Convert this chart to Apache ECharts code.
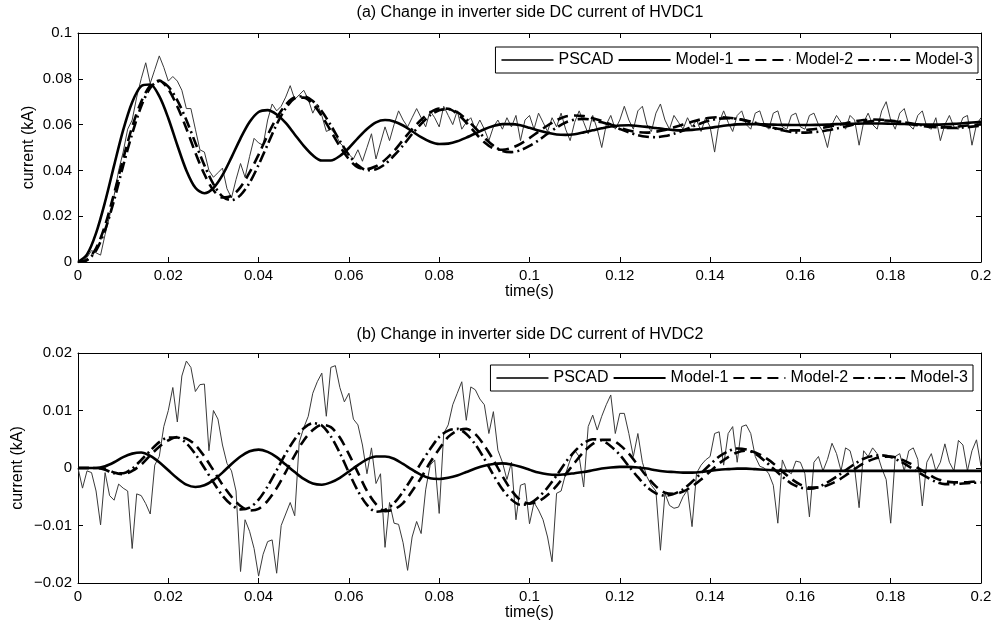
<!DOCTYPE html>
<html><head><meta charset="utf-8">
<script src="https://cdn.jsdelivr.net/npm/echarts@6/dist/echarts.min.js"></script>
<style>html,body{margin:0;padding:0;background:#fff}#c{width:997px;height:627px}</style>
</head><body><div id="c"></div>
<script>
// ---------- DATA ----------
const tModel = [
0,0.002,0.004,0.006,0.008,0.010,0.012,0.014,0.016,0.018,
0.020,0.022,0.024,0.026,0.028,0.030,0.032,0.034,0.036,0.038,
0.040,0.042,0.044,0.046,0.048,0.050,0.052,0.054,0.056,0.058,
0.060,0.062,0.064,0.066,0.068,0.070,0.072,0.074,0.076,0.078,
0.080,0.082,0.084,0.086,0.088,0.090,0.092,0.094,0.096,0.098,
0.100,0.102,0.104,0.106,0.108,0.110,0.112,0.114,0.116,0.118,
0.120,0.122,0.124,0.126,0.128,0.130,0.132,0.134,0.136,0.138,
0.140,0.142,0.144,0.146,0.148,0.150,0.152,0.154,0.156,0.158,
0.160,0.162,0.164,0.166,0.168,0.170,0.172,0.174,0.176,0.178,
0.180,0.182,0.184,0.186,0.188,0.190,0.192,0.194,0.196,0.198,
0.200];

const tPscad = [
0,0.001,0.002,0.003,0.004,0.005,0.006,0.007,0.008,0.009,
0.010,0.011,0.012,0.013,0.014,0.015,0.016,0.017,0.018,0.019,
0.020,0.021,0.022,0.023,0.024,0.025,0.026,0.027,0.028,0.029,
0.030,0.031,0.032,0.033,0.034,0.035,0.036,0.037,0.038,0.039,
0.040,0.041,0.042,0.043,0.044,0.045,0.046,0.047,0.048,0.049,
0.050,0.051,0.052,0.053,0.054,0.055,0.056,0.057,0.058,0.059,
0.060,0.061,0.062,0.063,0.064,0.065,0.066,0.067,0.068,0.069,
0.070,0.071,0.072,0.073,0.074,0.075,0.076,0.077,0.078,0.079,
0.080,0.081,0.082,0.083,0.084,0.085,0.086,0.087,0.088,0.089,
0.090,0.091,0.092,0.093,0.094,0.095,0.096,0.097,0.098,0.099,
0.100,0.101,0.102,0.103,0.104,0.105,0.106,0.107,0.108,0.109,
0.110,0.111,0.112,0.113,0.114,0.115,0.116,0.117,0.118,0.119,
0.120,0.121,0.122,0.123,0.124,0.125,0.126,0.127,0.128,0.129,
0.130,0.131,0.132,0.133,0.134,0.135,0.136,0.137,0.138,0.139,
0.140,0.141,0.142,0.143,0.144,0.145,0.146,0.147,0.148,0.149,
0.150,0.151,0.152,0.153,0.154,0.155,0.156,0.157,0.158,0.159,
0.160,0.161,0.162,0.163,0.164,0.165,0.166,0.167,0.168,0.169,
0.170,0.171,0.172,0.173,0.174,0.175,0.176,0.177,0.178,0.179,
0.180,0.181,0.182,0.183,0.184,0.185,0.186,0.187,0.188,0.189,
0.190,0.191,0.192,0.193,0.194,0.195,0.196,0.197,0.198,0.199,
0.200];

// (a) HVDC1
const pscadA = [
0,0.0005,0.002,0.005,0.004,0.003,0.012,0.020,0.029,0.040,
0.048,0.058,0.062,0.072,0.080,0.087,0.078,0.084,0.090,0.085,
0.079,0.081,0.079,0.075,0.067,0.067,0.058,0.049,0.048,0.040,
0.037,0.039,0.041,0.032,0.028,0.036,0.043,0.037,0.046,0.054,
0.052,0.051,0.062,0.069,0.066,0.068,0.072,0.077,0.071,0.073,
0.075,0.071,0.065,0.069,0.064,0.057,0.058,0.056,0.052,0.050,
0.047,0.045,0.049,0.044,0.050,0.056,0.045,0.052,0.059,0.053,
0.060,0.066,0.062,0.059,0.063,0.067,0.063,0.059,0.066,0.063,
0.059,0.068,0.064,0.060,0.066,0.058,0.061,0.063,0.058,0.062,
0.058,0.053,0.059,0.062,0.058,0.063,0.059,0.064,0.053,0.062,
0.064,0.058,0.065,0.061,0.057,0.063,0.059,0.065,0.058,0.053,
0.061,0.066,0.061,0.056,0.064,0.058,0.050,0.060,0.064,0.058,
0.062,0.068,0.062,0.058,0.066,0.068,0.060,0.057,0.065,0.069,
0.062,0.058,0.064,0.061,0.058,0.063,0.059,0.062,0.057,0.063,
0.059,0.048,0.061,0.066,0.061,0.057,0.064,0.066,0.060,0.058,
0.065,0.066,0.060,0.058,0.065,0.066,0.059,0.058,0.064,0.065,
0.059,0.058,0.064,0.065,0.060,0.057,0.050,0.060,0.064,0.061,
0.058,0.064,0.062,0.051,0.061,0.065,0.060,0.058,0.066,0.070,
0.062,0.058,0.065,0.067,0.060,0.058,0.064,0.066,0.059,0.058,
0.063,0.053,0.060,0.064,0.059,0.058,0.063,0.064,0.051,0.060,
0.063];

const model1A = [
0,0.0033,0.0126,0.0263,0.0422,0.0576,0.0698,0.0768,0.0775,0.0724,
0.0628,0.0510,0.0400,0.0324,0.0300,0.0323,0.0379,0.0457,0.0540,0.0611,
0.0655,0.0663,0.0644,0.0607,0.0557,0.0507,0.0466,0.0443,0.0443,0.0463,
0.0498,0.0541,0.0581,0.0610,0.0620,0.0614,0.0596,0.0571,0.0545,0.0525,
0.0515,0.0517,0.0527,0.0543,0.0561,0.0580,0.0594,0.0602,0.0602,0.0597,
0.0586,0.0574,0.0564,0.0557,0.0555,0.0558,0.0566,0.0575,0.0584,0.0592,
0.0596,0.0597,0.0594,0.0590,0.0585,0.0580,0.0576,0.0575,0.0577,0.0581,
0.0586,0.0592,0.0597,0.0601,0.0602,0.0602,0.0601,0.0600,0.0599,0.0598,
0.0598,0.0598,0.0599,0.0600,0.0602,0.0603,0.0604,0.0605,0.0605,0.0605,
0.0604,0.0603,0.0602,0.0601,0.0600,0.0600,0.0601,0.0603,0.0606,0.0609,
0.0612];

const model2A = [
0,0.001,0.006,0.016,0.030,0.045,0.059,0.070,0.077,0.0792,
0.0755,0.0679,0.0583,0.0477,0.0383,0.0313,0.0282,0.0289,0.0327,0.0391,
0.0469,0.0554,0.0629,0.0686,0.0718,0.0718,0.0690,0.0638,0.0572,0.0505,
0.0449,0.0413,0.0406,0.0418,0.0446,0.0485,0.0533,0.0580,0.0621,0.0653,
0.0670,0.0669,0.0647,0.0609,0.0564,0.0523,0.0496,0.0490,0.0498,0.0516,
0.0541,0.0569,0.0596,0.0619,0.0635,0.0640,0.0637,0.0628,0.0616,0.0601,
0.0586,0.0574,0.0567,0.0565,0.0569,0.0576,0.0588,0.0600,0.0612,0.0623,
0.0630,0.0632,0.0630,0.0625,0.0616,0.0606,0.0596,0.0586,0.0579,0.0575,
0.0575,0.0578,0.0583,0.0590,0.0598,0.0606,0.0614,0.0620,0.0622,0.0621,
0.0617,0.0611,0.0604,0.0597,0.0592,0.0589,0.0588,0.0590,0.0594,0.0598,
0.0601];

const model3A = [
0,0.0008,0.005,0.014,0.027,0.042,0.056,0.068,0.076,0.079,
0.0766,0.0706,0.0620,0.0520,0.0422,0.0340,0.0286,0.0270,0.0292,0.0346,
0.0424,0.0513,0.0601,0.0671,0.0715,0.0724,0.0703,0.0658,0.0597,0.0529,
0.0467,0.0422,0.0401,0.0405,0.0427,0.0465,0.0509,0.0559,0.0603,0.0641,
0.0663,0.0667,0.0654,0.0623,0.0585,0.0543,0.0508,0.0485,0.0480,0.0488,
0.0507,0.0531,0.0560,0.0587,0.0609,0.0622,0.0625,0.0620,0.0610,0.0597,
0.0581,0.0566,0.0554,0.0547,0.0545,0.0550,0.0560,0.0574,0.0590,0.0606,
0.0619,0.0626,0.0628,0.0625,0.0618,0.0608,0.0597,0.0585,0.0575,0.0568,
0.0565,0.0566,0.0569,0.0575,0.0583,0.0592,0.0601,0.0609,0.0615,0.0618,
0.0617,0.0613,0.0607,0.0600,0.0594,0.0589,0.0586,0.0585,0.0587,0.0591,
0.0595];

// (b) HVDC2
const pscadB = [
0,-0.0035,-0.0005,-0.0008,-0.0040,-0.0099,-0.0008,-0.0048,-0.0056,-0.0028,
-0.0035,-0.0040,-0.0140,-0.0045,-0.0048,-0.0062,-0.0080,0.0005,0.0020,0.0072,
0.0100,0.0140,0.0080,0.0160,0.0186,0.0175,0.0133,0.0145,0.0146,0.0030,
0.0100,0.0085,0.0040,0.0008,-0.0005,-0.0040,-0.0180,-0.0090,-0.0110,-0.0140,
-0.0188,-0.0150,-0.0128,-0.0125,-0.0183,-0.0100,-0.0080,-0.0060,-0.0083,0.0045,
0.0070,0.0090,0.0130,0.0150,0.0165,0.0090,0.0175,0.0178,0.0140,0.0115,
0.0130,0.0085,0.0075,0.0040,-0.0010,0.0035,-0.0027,-0.0010,-0.0138,-0.0060,
-0.0096,-0.0098,-0.0130,-0.0178,-0.0120,-0.0093,-0.0114,-0.0038,0.0005,0.0014,
-0.0079,0.0060,0.0075,0.0110,0.0130,0.0150,0.0083,0.0141,0.0136,0.0120,
0.0110,0.0060,0.0098,0.0031,0.0010,-0.0020,0.0010,-0.0090,-0.0030,-0.0027,
-0.0097,-0.0060,-0.0073,-0.0090,-0.0120,-0.0163,-0.0044,-0.0040,-0.0010,0.0014,
0.0031,0.0020,-0.0033,0.0072,0.0092,0.0066,0.0090,0.0110,0.0127,0.0060,
0.0095,0.0095,0.0060,0.0020,0.0060,0.0010,-0.0015,-0.0030,-0.0040,-0.0143,
-0.0044,-0.0065,-0.0070,-0.0068,-0.0050,-0.0038,-0.0102,-0.0009,0.0005,0.0014,
0.0020,0.0060,0.0063,0.0005,0.0060,0.0072,0.0010,0.0072,0.0075,0.0060,
0.0020,0.0003,0.0000,-0.0010,-0.0030,-0.0096,0.0014,-0.0005,-0.0010,0.0012,
0.0010,-0.0010,-0.0085,0.0010,0.0020,-0.0005,0.0015,0.0043,0.0025,-0.0005,
0.0035,0.0030,0.0000,-0.0069,0.0030,0.0020,0.0035,0.0025,0.0000,-0.0020,
-0.0096,0.0020,0.0025,-0.0005,0.0030,0.0035,0.0015,-0.0066,0.0010,0.0025,
-0.0005,0.0010,0.0042,0.0010,-0.0005,0.0048,0.0040,-0.0005,0.0030,0.0049,
0.0003];

const model1B = [
0,0,0,0.0003,0.0010,0.0019,0.0025,0.0027,0.0021,0.0010,
-0.0004,-0.0018,-0.0029,-0.0033,-0.0030,-0.0021,-0.0008,0.0007,0.0020,0.0029,
0.0032,0.0028,0.0019,0.0006,-0.0007,-0.0019,-0.0027,-0.0029,-0.0025,-0.0017,
-0.0006,0.0005,0.0015,0.0020,0.0020,0.0016,0.0007,-0.0003,-0.0012,-0.0018,
-0.0019,-0.0017,-0.0013,-0.0007,-0.0001,0.0004,0.0007,0.0008,0.0006,0.0002,
-0.0003,-0.0008,-0.0011,-0.0012,-0.0011,-0.0009,-0.0007,-0.0004,-0.0001,0.0001,
0.0002,0.0002,0.0001,-0.0001,-0.0004,-0.0006,-0.0007,-0.0008,-0.0008,-0.0007,
-0.0005,-0.0003,-0.0002,-0.0001,-0.0001,-0.0002,-0.0003,-0.0004,-0.0005,-0.0005,
-0.0005,-0.0005,-0.0005,-0.0005,-0.0005,-0.0005,-0.0005,-0.0005,-0.0005,-0.0005,
-0.0005,-0.0005,-0.0005,-0.0005,-0.0005,-0.0005,-0.0005,-0.0005,-0.0005,-0.0005,
-0.0005];

const model2B = [
0,0,0,-0.0001,-0.0008,-0.0011,-0.0005,0.0006,0.0022,0.0037,
0.0048,0.0054,0.0051,0.0040,0.0020,-0.0004,-0.0029,-0.0050,-0.0066,-0.0074,
-0.0071,-0.0057,-0.0035,-0.0007,0.0022,0.0048,0.0066,0.0075,0.0071,0.0053,
0.0024,-0.0008,-0.0040,-0.0063,-0.0075,-0.0072,-0.0061,-0.0040,-0.0017,0.0010,
0.0033,0.0054,0.0065,0.0068,0.0059,0.0039,0.0014,-0.0014,-0.0039,-0.0056,
-0.0062,-0.0058,-0.0047,-0.0031,-0.0011,0.0009,0.0028,0.0042,0.0049,0.0049,
0.0040,0.0025,0.0005,-0.0015,-0.0032,-0.0043,-0.0045,-0.0041,-0.0032,-0.0020,
-0.0006,0.0008,0.0019,0.0027,0.0030,0.0027,0.0019,0.0008,-0.0006,-0.0019,
-0.0029,-0.0034,-0.0034,-0.0030,-0.0023,-0.0013,-0.0002,0.0008,0.0015,0.0019,
0.0020,0.0016,0.0009,0.0000,-0.0009,-0.0018,-0.0023,-0.0025,-0.0025,-0.0024,
-0.0022];

const model3B = [
0,0,0,-0.0003,-0.0009,-0.0009,-0.0001,0.0014,0.0030,0.0045,
0.0053,0.0053,0.0043,0.0024,0.0000,-0.0025,-0.0048,-0.0064,-0.0072,-0.0069,
-0.0055,-0.0032,-0.0004,0.0025,0.0050,0.0069,0.0078,0.0074,0.0055,0.0026,
-0.0008,-0.0040,-0.0064,-0.0076,-0.0073,-0.0061,-0.0041,-0.0017,0.0009,0.0033,
0.0054,0.0065,0.0068,0.0059,0.0041,0.0016,-0.0012,-0.0037,-0.0055,-0.0064,
-0.0062,-0.0051,-0.0034,-0.0013,0.0010,0.0029,0.0043,0.0050,0.0048,0.0038,
0.0023,0.0003,-0.0016,-0.0033,-0.0044,-0.0048,-0.0045,-0.0037,-0.0024,-0.0009,
0.0006,0.0020,0.0029,0.0034,0.0032,0.0025,0.0013,-0.0001,-0.0015,-0.0027,
-0.0034,-0.0036,-0.0033,-0.0025,-0.0015,-0.0004,0.0007,0.0016,0.0021,0.0022,
0.0019,0.0012,0.0003,-0.0007,-0.0016,-0.0024,-0.0028,-0.0028,-0.0027,-0.0026,
-0.0025];

const seriesNames = ['PSCAD', 'Model-1', 'Model-2', 'Model-3'];
const titleTexts = ['(a) Change in inverter side DC current of HVDC1', '(b) Change in inverter side DC current of HVDC2'];
const xAxisName = 'time(s)';
const yAxisName = 'current (kA)';

// ---------- CHART ----------
const FONT = '"Liberation Sans", Arial, Helvetica, sans-serif';
function zip(t, v) { return t.map((x, i) => [x, v[i]]); }
function fmt(v) { return String(+v.toFixed(4)).replace('-', '\u2212'); }

const txt = { color: '#000', fontFamily: FONT };

function xAx(grid, pos, withLabel, nameGap) {
  const a = {
    type: 'value', gridIndex: grid, position: pos, min: 0, max: 0.2, interval: 0.02,
    axisLine: { show: true, onZero: false, lineStyle: { color: '#000', width: 1 } },
    axisTick: { show: true, inside: true, length: 5, lineStyle: { color: '#000', width: 1 } },
    axisLabel: { show: withLabel, margin: 6, formatter: fmt, fontSize: 15, ...txt },
    splitLine: { show: false }
  };
  if (withLabel) {
    a.name = xAxisName; a.nameLocation = 'middle'; a.nameGap = nameGap;
    a.nameMoveOverlap = false;
    a.nameTextStyle = { fontSize: 16, ...txt };
  }
  return a;
}
function yAx(grid, pos, min, max, interval, withLabel, nameGap) {
  const a = {
    type: 'value', gridIndex: grid, position: pos, min: min, max: max, interval: interval,
    axisLine: { show: true, onZero: false, lineStyle: { color: '#000', width: 1 } },
    axisTick: { show: true, inside: true, length: 5, lineStyle: { color: '#000', width: 1 } },
    axisLabel: { show: withLabel, margin: 6, formatter: fmt, fontSize: 15, ...txt },
    splitLine: { show: false }
  };
  if (withLabel) {
    a.name = yAxisName; a.nameLocation = 'middle'; a.nameGap = nameGap; a.nameRotate = 90;
    a.nameMoveOverlap = false;
    a.nameTextStyle = { fontSize: 16, ...txt };
  }
  return a;
}

const styles = [
  { color: '#3a3a3a', width: 1, type: 'solid' },
  { color: '#000', width: 2.6, type: 'solid' },
  { color: '#000', width: 2.6, type: [11, 6] },
  { color: '#000', width: 2.6, type: [11, 4, 2, 4] }
];

function mkSeries(axisIdx, tp, p, m1, m2, m3) {
  const sets = [[tPscad, p], [tModel, m1], [tModel, m2], [tModel, m3]];
  return sets.map((s, i) => ({
    name: seriesNames[i], type: 'line',
    xAxisIndex: axisIdx, yAxisIndex: axisIdx,
    data: zip(s[0], s[1]),
    showSymbol: false, symbol: 'none',
    smooth: i === 0 ? false : 0.3,
    lineStyle: styles[i], itemStyle: { color: styles[i].color },
    z: 2 + i, silent: true
  }));
}

function mkLegend(right, top) {
  return {
    data: seriesNames, right: right, top: top, orient: 'horizontal',
    itemWidth: 52, itemHeight: 14, itemGap: 4, padding: [5, 5],
    borderColor: '#000', borderWidth: 1, backgroundColor: '#fff',
    itemStyle: { color: 'rgba(0,0,0,0)', borderWidth: 0, opacity: 0 },
    textStyle: { fontSize: 16, ...txt }, selectedMode: false
  };
}

const chart = echarts.init(document.getElementById('c'), null, { renderer: 'canvas' });
chart.setOption({
  animation: false,
  backgroundColor: '#fff',
  title: [
    { text: titleTexts[0], left: 530, top: 5, textAlign: 'center', padding: 0,
      textStyle: { fontSize: 16, fontWeight: 'normal', ...txt } },
    { text: titleTexts[1], left: 530, top: 327, textAlign: 'center', padding: 0,
      textStyle: { fontSize: 16, fontWeight: 'normal', ...txt } }
  ],
  legend: [mkLegend(19, 47), mkLegend(24, 365)],
  grid: [
    { left: 78, top: 33, width: 903, height: 229, containLabel: false },
    { left: 78, top: 353, width: 903, height: 230, containLabel: false }
  ],
  xAxis: [xAx(0, 'bottom', true, 22), xAx(0, 'top', false), xAx(1, 'bottom', true, 22), xAx(1, 'top', false)],
  yAxis: [
    yAx(0, 'left', 0, 0.1, 0.02, true, 41), yAx(0, 'right', 0, 0.1, 0.02, false),
    yAx(1, 'left', -0.02, 0.02, 0.01, true, 52), yAx(1, 'right', -0.02, 0.02, 0.01, false)
  ],
  series: [
    ...mkSeries(0, tPscad, pscadA, model1A, model2A, model3A),
    ...mkSeries(2, tPscad, pscadB, model1B, model2B, model3B)
  ]
});
</script>
</body></html>
